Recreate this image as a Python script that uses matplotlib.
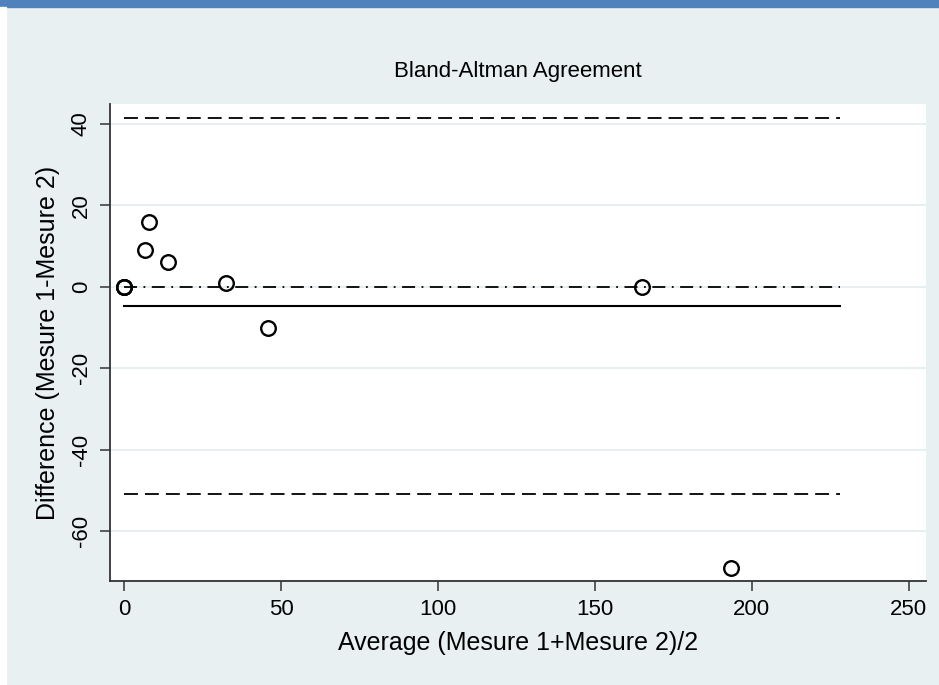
import matplotlib.pyplot as plt
from matplotlib.patches import Rectangle

plt.rcParams['font.family'] = ['Liberation Sans', 'DejaVu Sans']
plt.rcParams['axes.unicode_minus'] = False

# averages and differences
avg = [0, 0, 0, 6.5, 8, 14, 32.5, 46, 165, 193.5]
diff = [0, 0, 0, 9, 16, 6, 1, -10, 0, -69]
mean_diff = -4.7
upper_loa = 41.5
lower_loa = -50.9
line_x = [0, 228]
xticks = [0, 50, 100, 150, 200, 250]
yticks = [-60, -40, -20, 0, 20, 40]

bg = '#e8f0f2'
fig = plt.figure(figsize=(9.39, 6.85), dpi=100)
fig.patch.set_facecolor(bg)
# blue band at top, white strip on the left
fig.patches.append(Rectangle((0, 1 - 7 / 685), 1, 7 / 685, transform=fig.transFigure,
                             color='#4f81bd', zorder=0))
fig.patches.append(Rectangle((0, 0), 6 / 939, 1 - 7 / 685, transform=fig.transFigure,
                             color='white', zorder=0))

ax = fig.add_axes([110 / 939, 104 / 685, 816 / 939, 477 / 685])
ax.set_facecolor('white')

ax.plot(line_x, [upper_loa, upper_loa], color='black', lw=1.3, dashes=(7.7, 3.9))
ax.plot(line_x, [lower_loa, lower_loa], color='black', lw=1.3, dashes=(7.7, 3.9))
ax.plot(line_x, [0, 0], color='black', lw=1.3, dashes=(7.2, 3.6, 1, 3.6))
ax.plot(line_x, [mean_diff, mean_diff], color='black', lw=1.5)
ax.plot(avg, diff, 'o', mfc='none', mec='black', ms=10.5, mew=1.7, zorder=5)

ax.set_xlim(-4.5, 255.5)
ax.set_ylim(-72.2, 44.9)
ax.set_xticks(xticks)
ax.set_yticks(yticks)
ax.yaxis.grid(True, color='#e6eef0', lw=1.3)
ax.set_axisbelow(True)
for s in ['top', 'right']:
    ax.spines[s].set_visible(False)
for s in ['left', 'bottom']:
    ax.spines[s].set_color('#333333')
    ax.spines[s].set_linewidth(1.3)
ax.tick_params(direction='out', length=7, width=1.1, color='#333333', labelsize=16, pad=6)
for lab in ax.get_yticklabels():
    lab.set_rotation(90)
    lab.set_va('center')

ax.set_xlabel('Average (Mesure 1+Mesure 2)/2', fontsize=18, labelpad=8)
ax.set_ylabel('Difference (Mesure 1-Mesure 2)', fontsize=18, labelpad=8)
fig.text(518 / 939, 1 - 72 / 685, 'Bland-Altman Agreement', ha='center', va='center', fontsize=16)

fig.savefig('out.png', dpi=100, facecolor=bg)
